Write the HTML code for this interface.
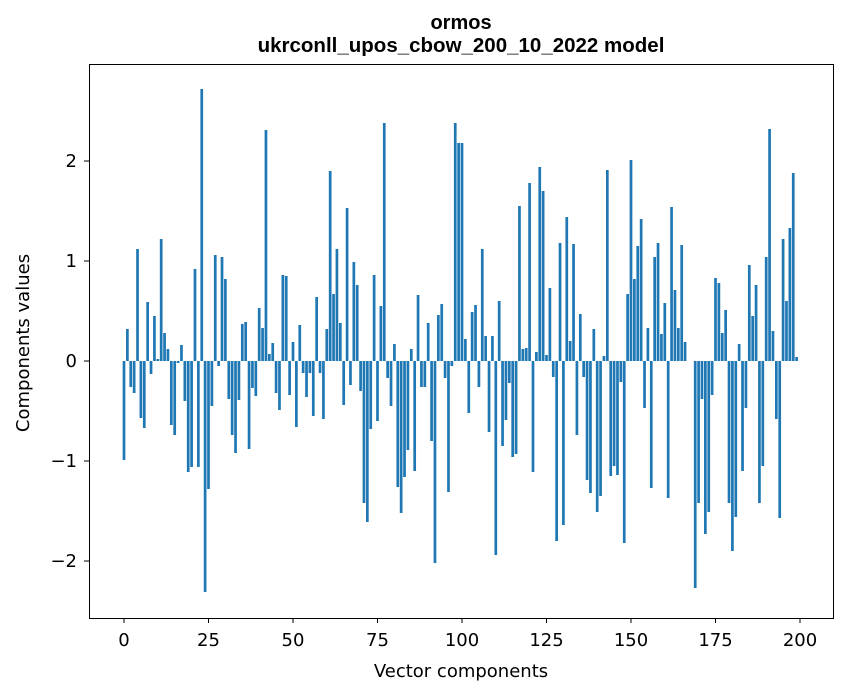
<!DOCTYPE html>
<html><head><meta charset="utf-8"><style>
body{margin:0;background:#fff;font-family:"DejaVu Sans",sans-serif}
</style></head><body>
<svg id="chart" width="847" height="696" xmlns="http://www.w3.org/2000/svg">
<rect width="847" height="696" fill="#fff"/>
<text x="461" y="29" text-anchor="middle" font-size="20" font-weight="bold" font-family="Liberation Sans, sans-serif">ormos</text>
<text x="461" y="52" text-anchor="middle" font-size="20.5" font-weight="bold" font-family="Liberation Sans, sans-serif">ukrconll_upos_cbow_200_10_2022 model</text>
<g id="bars"></g>
<g id="axes"></g>
<rect x="89.5" y="64.5" width="744" height="554" fill="none" stroke="#000" stroke-width="1"/>
<text x="461" y="677" text-anchor="middle" font-size="18" font-family="DejaVu Sans, sans-serif">Vector components</text>
<text transform="translate(29,343) rotate(-90)" text-anchor="middle" font-size="18" font-family="DejaVu Sans, sans-serif">Components values</text>
</svg>
<script>
const values=[-0.99,0.32,-0.26,-0.32,1.12,-0.57,-0.67,0.59,-0.13,0.45,0.02,1.22,0.28,0.12,-0.64,-0.74,-0.02,0.16,-0.40,-1.11,
-1.06,0.92,-1.06,2.72,-2.31,-1.28,-0.45,1.06,-0.05,1.04,0.82,-0.38,-0.74,-0.92,-0.39,0.37,0.39,-0.88,-0.27,-0.35,
0.53,0.33,2.31,0.07,0.18,-0.32,-0.49,0.86,0.85,-0.34,0.19,-0.66,0.36,-0.12,-0.36,-0.12,-0.55,0.64,-0.12,-0.58,
0.32,1.90,0.67,1.12,0.38,-0.44,1.53,-0.24,0.99,0.76,-0.30,-1.42,-1.61,-0.68,0.86,-0.60,0.55,2.38,-0.17,-0.45,
0.17,-1.26,-1.52,-1.16,-0.89,0.12,-1.10,0.66,-0.26,-0.26,0.38,-0.80,-2.02,0.46,0.57,-0.17,-1.31,-0.05,2.38,2.18,
2.18,0.22,-0.52,0.49,0.56,-0.26,1.12,0.25,-0.71,0.25,-1.94,0.60,-0.85,-0.59,-0.22,-0.96,-0.93,1.55,0.12,0.13,
1.78,-1.11,0.09,1.94,1.70,0.06,0.73,-0.16,-1.80,1.18,-1.64,1.44,0.20,1.17,-0.74,0.47,-0.16,-1.19,-1.32,0.32,
-1.51,-1.35,0.05,1.91,-1.15,-1.05,-1.14,-0.21,-1.82,0.67,2.01,0.82,1.15,1.42,-0.47,0.33,-1.27,1.04,1.18,0.27,
0.58,-1.37,1.54,0.71,0.33,1.16,0.19,0.00,0.00,-2.27,-1.42,-0.38,-1.73,-1.51,-0.34,0.83,0.78,0.28,0.51,-1.42,
-1.90,-1.56,0.17,-1.10,-0.47,0.96,0.45,0.76,-1.42,-1.05,1.04,2.32,0.30,-0.58,-1.57,1.22,0.60,1.33,1.88,0.04];
const xTicks=[0,25,50,75,100,125,150,175,200];
const yTicks=[-2,-1,0,1,2];
const NS="http://www.w3.org/2000/svg";
function xs(v){return 124+3.38*v;}
function ys(v){return 361-100*v;}
const bars=document.getElementById('bars');
values.forEach((v,i)=>{
  const r=document.createElementNS(NS,'rect');
  const x0=xs(i-0.4),x1=xs(i+0.4);
  r.setAttribute('x',x0);r.setAttribute('width',x1-x0);
  r.setAttribute('y',Math.min(ys(v),ys(0)));
  r.setAttribute('height',Math.abs(ys(v)-ys(0)));
  r.setAttribute('fill','#1f77b4');
  
  
  bars.appendChild(r);
});
const axes=document.getElementById('axes');
xTicks.forEach(t=>{
  const l=document.createElementNS(NS,'line');
  l.setAttribute('x1',xs(t));l.setAttribute('x2',xs(t));l.setAttribute('y1',618);l.setAttribute('y2',623);l.setAttribute('stroke','#000');
  
  
  axes.appendChild(l);
  const tx=document.createElementNS(NS,'text');
  tx.setAttribute('x',xs(t));tx.setAttribute('y',646);tx.setAttribute('text-anchor','middle');tx.setAttribute('font-size','18');
  tx.setAttribute('font-family','DejaVu Sans, sans-serif');
  tx.textContent=t;
  
  
  axes.appendChild(tx);
});
yTicks.forEach(t=>{
  const l=document.createElementNS(NS,'line');
  l.setAttribute('x1',84);l.setAttribute('x2',89);l.setAttribute('y1',ys(t));l.setAttribute('y2',ys(t));l.setAttribute('stroke','#000');
  
  
  axes.appendChild(l);
  const tx=document.createElementNS(NS,'text');
  tx.setAttribute('x',77);tx.setAttribute('y',ys(t)+6);tx.setAttribute('text-anchor','end');tx.setAttribute('font-size','18');
  tx.setAttribute('font-family','DejaVu Sans, sans-serif');
  tx.textContent=t<0?'\u2212'+Math.abs(t):String(t);
  
  
  axes.appendChild(tx);
});
</script>
</body></html>
